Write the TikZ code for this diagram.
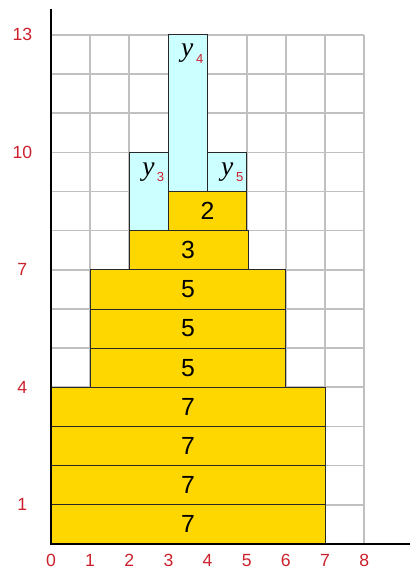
\documentclass[tikz,border=0pt]{standalone}
\usepackage{fontspec}
\setmainfont{Liberation Sans}
\newfontfamily\timesfont{Liberation Serif}
\usepackage{xcolor}
\definecolor{axisred}{RGB}{204,32,44}
\definecolor{gridgray}{RGB}{192,192,192}
\definecolor{gold}{RGB}{255,215,0}
\definecolor{paleblue}{RGB}{204,255,255}
\definecolor{edge}{RGB}{40,40,40}

\begin{document}
\begin{tikzpicture}[scale=1,
  yellowbox/.style={fill=gold,draw=edge,line width=0.7pt},
  cyanbox/.style={fill=paleblue,draw=edge,line width=0.7pt},
  ticklabel/.style={text=axisred,inner sep=0pt,font=\fontsize{12.8}{15}\selectfont},
  count/.style={font=\fontsize{18}{21}\selectfont},
  yvar/.style={font=\fontsize{20}{24}\selectfont\timesfont\itshape,anchor=base,inner sep=0pt},
  ysub/.style={text=axisred,font=\fontsize{9.5}{11}\selectfont,anchor=base west,inner sep=0pt}]
\useasboundingbox (-1.30,-0.69) rectangle (9.16,13.89);
% grid
\draw[gridgray,line width=1.2pt] (0,0) grid (8,13);
% empty slots
\draw[cyanbox] (2,8) rectangle (3,10);
\draw[cyanbox] (3,9) rectangle (4,13);
\draw[cyanbox] (4,9) rectangle (5,10);
% filled rows
\foreach \r in {0,...,3}
  \draw[yellowbox] (0,\r) rectangle (7,\r+1);
\foreach \r in {4,...,6}
  \draw[yellowbox] (1,\r) rectangle (6,\r+1);
\draw[yellowbox] (2,7) rectangle (5.05,8);
\draw[yellowbox] (3,8) rectangle (5,9);
% row counts
\foreach \r in {0,...,3}
  \node[count] (seven\r) at (3.5,\r+0.5) {7};
\foreach \r in {4,...,6}
  \node[count] (five\r) at (3.5,\r+0.5) {5};
\node[count] (three) at (3.5,7.5) {3};
\node[count] (two) at (4,8.5) {2};
% variables
\node[yvar] (ythree) at (2.49,9.42) {y};
\node[ysub] (ythreesub) at (2.70,9.26) {3};
\node[yvar] (yfour) at (3.48,12.44) {y};
\node[ysub] (yfoursub) at (3.70,12.27) {4};
\node[yvar] (yfive) at (4.50,9.42) {y};
\node[ysub] (yfivesub) at (4.72,9.26) {5};
% axes
\draw[black,line width=0.9pt] (0,13.65) -- (0,0) -- (9.16,0);
\foreach \x in {0,...,8}
  \node[ticklabel] (xlab\x) at (\x,-0.42) {\x};
\foreach \y in {1,4,7,10,13}
  \node[ticklabel] (ylab\y) at (-0.73,\y) {\y};
\end{tikzpicture}
\end{document}
